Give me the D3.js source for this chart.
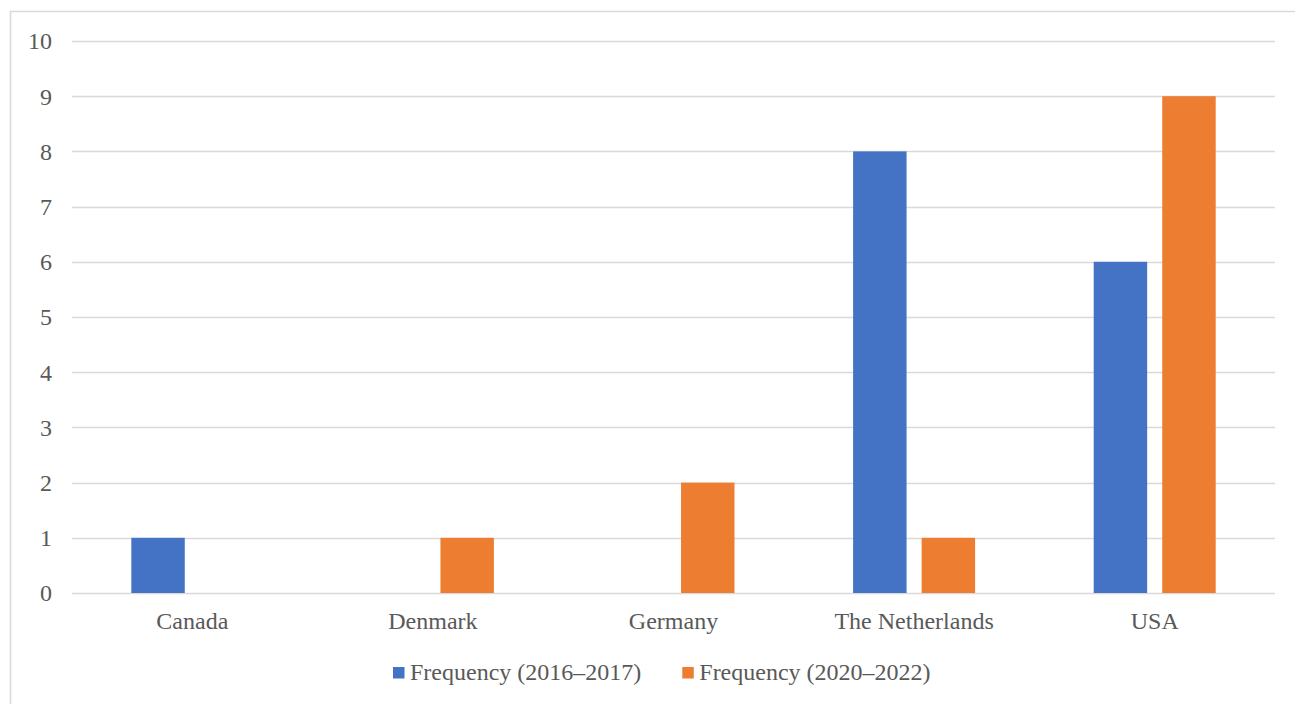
<!DOCTYPE html>
<html>
<head>
<meta charset="utf-8">
<script src="https://cdn.jsdelivr.net/npm/d3@7"></script>
<style>
  html, body { margin: 0; padding: 0; background: #fff; }
  svg { display: block; }
  text { font-family: "Liberation Serif", "Times New Roman", serif; fill: #595959; }
</style>
</head>
<body>
<svg id="chart" width="1295" height="704"></svg>
<script>
const categories = ["Canada", "Denmark", "Germany", "The Netherlands", "USA"];
const seriesNames = ["Frequency (2016\u20132017)", "Frequency (2020\u20132022)"];
const freq2016_2017 = [1, 0, 0, 8, 6];
const freq2020_2022 = [0, 1, 2, 1, 9];
const yTicks = [0, 1, 2, 3, 4, 5, 6, 7, 8, 9, 10];
const colors = ["#4472C4", "#ED7D31"];

const seriesValues = [freq2016_2017, freq2020_2022];
const rows = categories.map((c, i) => ({
  category: c,
  values: seriesValues.map((vals, s) => ({ series: s, value: vals[i] }))
}));

const svg = d3.select("#chart");
const plot = { left: 72, right: 1275, top: 41, bottom: 593 };
const fontSize = 24;

// chart frame (runs off the right and bottom edges)
svg.append("rect")
  .attr("x", 10.5).attr("y", 11.5)
  .attr("width", 1300).attr("height", 720)
  .attr("fill", "#fff")
  .attr("stroke", "#d9d9d9").attr("stroke-width", 1.5);

const y = d3.scaleLinear().domain([0, 10]).range([plot.bottom, plot.top]);
const x0 = d3.scaleBand().domain(categories).range([plot.left, plot.right]).paddingInner(0.493).paddingOuter(0.2465);
const x1 = d3.scaleBand().domain(d3.range(seriesNames.length)).range([0, x0.bandwidth()]).paddingInner(0.22);

// gridlines
svg.append("g")
  .selectAll("line")
  .data(yTicks)
  .join("line")
  .attr("x1", plot.left).attr("x2", plot.right)
  .attr("y1", d => Math.round(y(d)) + 0.5).attr("y2", d => Math.round(y(d)) + 0.5)
  .attr("stroke", "#d9d9d9").attr("stroke-width", 1.5);

// y-axis labels
const yAxis = d3.axisLeft(y).tickValues(yTicks).tickSize(0).tickPadding(0);
const gy = svg.append("g").attr("transform", `translate(52,0)`).call(yAxis);
gy.select(".domain").remove();
gy.selectAll("text")
  .attr("font-size", fontSize)
  .attr("font-family", "Liberation Serif, Times New Roman, serif")
  .attr("fill", "#595959")
  .attr("dy", "0.33em");

// bars
svg.append("g")
  .selectAll("g")
  .data(rows)
  .join("g")
  .attr("transform", d => `translate(${x0(d.category)},0)`)
  .selectAll("rect")
  .data(d => d.values.filter(v => v.value > 0))
  .join("rect")
  .attr("x", d => x1(d.series))
  .attr("width", x1.bandwidth())
  .attr("y", d => y(d.value))
  .attr("height", d => y(0) - y(d.value))
  .attr("fill", d => colors[d.series]);

// category labels
const xAxis = d3.axisBottom(x0).tickSize(0).tickPadding(0);
const gx = svg.append("g").attr("transform", `translate(0,${plot.bottom})`).call(xAxis);
gx.select(".domain").remove();
gx.selectAll("text")
  .attr("font-size", fontSize)
  .attr("font-family", "Liberation Serif, Times New Roman, serif")
  .attr("fill", "#595959")
  .attr("y", 36)
  .attr("dy", 0);

// legend: swatch + label, laid out left to right
const legend = svg.append("g");
let lx = 393;
seriesNames.forEach((name, i) => {
  legend.append("rect")
    .attr("x", lx).attr("y", 667)
    .attr("width", 11.5).attr("height", 11.5)
    .attr("fill", colors[i]);
  const t = legend.append("text")
    .attr("x", lx + 17).attr("y", 680)
    .attr("font-size", fontSize)
    .text(name);
  lx += 17 + t.node().getComputedTextLength() + 41;
});
</script>
</body>
</html>
